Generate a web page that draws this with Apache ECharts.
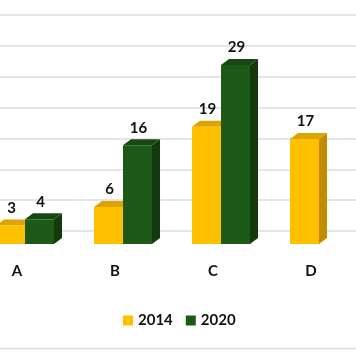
<!DOCTYPE html>
<html>
<head>
<meta charset="utf-8">
<script src="https://cdn.jsdelivr.net/npm/echarts@6/dist/echarts.min.js"></script>
<style>
html,body{margin:0;padding:0;background:#fff;}
#chart{width:356px;height:364px;}
</style>
</head>
<body>
<div id="chart"></div>
<script>
var categories = ['A', 'B', 'C', 'D'];
var values2014 = [3, 6, 19, 17];
var values2020 = [4, 16, 29, null];
var seriesNames = ['2014', '2020'];

var FONT = 'Lato, "Open Sans", sans-serif';
var BAR_W = 29, DX = 8, DY = 6, OY = 13;
var palette = [
  { front: '#FFC000', top: '#DDA300', side: '#C08C00' },
  { front: '#1E5A17', top: '#184812', side: '#123A0D' }
];

function makeRender(si) {
  return function (params, api) {
    var v = api.value(1);
    if (v == null || isNaN(v)) return;
    var idx = api.value(0);
    var base = api.coord([idx, 0]);
    var topPt = api.coord([idx, v]);
    var x0 = base[0] - BAR_W + si * BAR_W;
    var x1 = x0 + BAR_W;
    var yb = base[1] + OY;
    var yt = topPt[1] + OY;
    var c = palette[si];
    return {
      type: 'group',
      children: [
        { type: 'polygon', shape: { points: [[x1, yt], [x1 + DX, yt - DY], [x1 + DX, yb - DY], [x1, yb]] }, style: { fill: c.side } },
        { type: 'polygon', shape: { points: [[x0, yt], [x0 + DX, yt - DY], [x1 + DX, yt - DY], [x1, yt]] }, style: { fill: c.top } },
        { type: 'rect', shape: { x: x0, y: yt, width: BAR_W, height: yb - yt }, style: { fill: c.front } },
        { type: 'text', style: { text: String(v), x: (x0 + x1) / 2 + 1, y: yt - DY - 4, align: 'center', verticalAlign: 'bottom', font: 'bold 15px ' + FONT, fill: '#111' } }
      ]
    };
  };
}

var chart = echarts.init(document.getElementById('chart'));
chart.setOption({
  backgroundColor: '#fff',
  animation: false,
  grid: { left: -24, width: 392, top: 15, height: 216, containLabel: false, outerBoundsMode: 'none' },
  legend: {
    data: seriesNames,
    left: 118, top: 308,
    itemWidth: 10, itemHeight: 10, itemGap: 13,
    icon: 'rect',
    textStyle: { fontFamily: FONT, fontWeight: 'bold', fontSize: 15, color: '#111' }
  },
  xAxis: {
    type: 'category', data: categories,
    axisLine: { show: false }, axisTick: { show: false },
    axisLabel: { margin: 33, fontFamily: FONT, fontWeight: 'bold', fontSize: 15, color: '#111', padding: [0, 16, 0, 0] }
  },
  yAxis: {
    type: 'value', min: 0, max: 35, interval: 5,
    axisLabel: { show: false }, axisLine: { show: false }, axisTick: { show: false },
    splitLine: { lineStyle: { color: '#dcdcdc', width: 1.5 } }
  },
  graphic: [
    { type: 'line', shape: { x1: 0, y1: 348.5, x2: 356, y2: 348.5 }, style: { stroke: '#dcdcdc', lineWidth: 1.5 } }
  ],
  series: [
    { name: seriesNames[0], type: 'custom', color: palette[0].front, renderItem: makeRender(0),
      data: values2014.map(function (v, i) { return [i, v]; }) },
    { name: seriesNames[1], type: 'custom', color: palette[1].front, renderItem: makeRender(1),
      data: values2020.map(function (v, i) { return [i, v]; }) }
  ]
});
</script>
</body>
</html>
